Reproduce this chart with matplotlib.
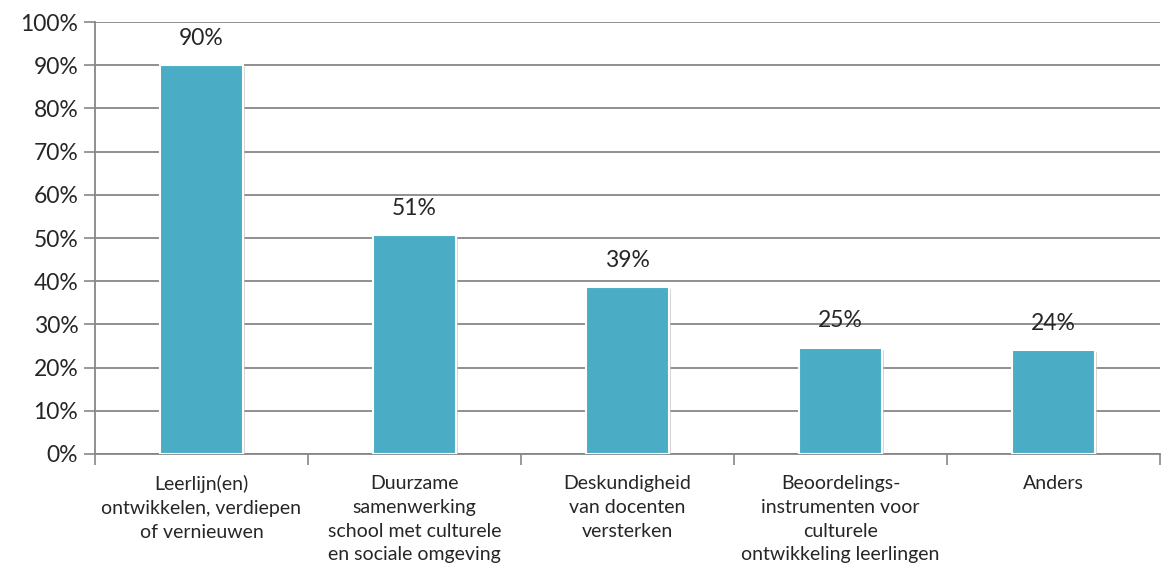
import matplotlib
matplotlib.use("Agg")
import matplotlib.pyplot as plt
import numpy as np
from matplotlib.ticker import FixedLocator, PercentFormatter
import matplotlib.patheffects as pe

categories = [
    "Leerlijn(en)\nontwikkelen, verdiepen\nof vernieuwen",
    "Duurzame\nsamenwerking\nschool met culturele\nen sociale omgeving",
    "Deskundigheid\nvan docenten\nversterken",
    "Beoordelings-\ninstrumenten voor\nculturele\nontwikkeling leerlingen",
    "Anders",
]
values = [90.0, 50.7, 38.6, 24.6, 24.0]
value_labels = ["90%", "51%", "39%", "25%", "24%"]
y_ticks = [0, 10, 20, 30, 40, 50, 60, 70, 80, 90, 100]

plt.rcParams["font.family"] = ["Lato", "DejaVu Sans"]

fig = plt.figure(figsize=(11.64, 5.72), dpi=100)
ax = fig.add_axes([0.0816, 0.2063, 0.9150, 0.7552])

grid_col = "#878787"
bar_col = "#4BACC6"
text_col = "#262626"

x = np.arange(len(categories))
ax.set_xlim(-0.5, len(categories) - 0.5)
ax.set_ylim(0, 100)

ax.yaxis.set_major_locator(FixedLocator(y_ticks))
ax.yaxis.set_major_formatter(PercentFormatter(decimals=0))
ax.grid(axis="y", color=grid_col, linewidth=1.3)
ax.set_axisbelow(True)

bars = ax.bar(x, values, width=0.39, color=bar_col, edgecolor="white",
              linewidth=1.5, zorder=3)
for b in bars:
    b.set_path_effects([pe.SimplePatchShadow(offset=(1.5, -1.5), shadow_rgbFace="#bbbbbb", alpha=0.6), pe.Normal()])

for xi, v, lab in zip(x, values, value_labels):
    ax.text(xi, v + 3.8, lab, ha="center", va="bottom", fontsize=16.5,
            color=text_col, zorder=4)

# category labels centered, ticks at boundaries
ax.set_xticks(np.arange(-0.5, len(categories) + 0.5, 1.0))
ax.set_xticklabels([])
ax.tick_params(axis="x", length=8, width=1.2, color=grid_col, direction="out")
for xi, c in zip(x, categories):
    ax.text(xi, -4.9, c, ha="center", va="top", fontsize=14, color=text_col,
            linespacing=1.48, clip_on=False)

ax.tick_params(axis="y", length=8, width=1.2, color=grid_col, labelsize=16.5,
               labelcolor=text_col, pad=4)

for s in ["top", "right"]:
    ax.spines[s].set_visible(False)
for s in ["left", "bottom"]:
    ax.spines[s].set_color(grid_col)
    ax.spines[s].set_linewidth(1.3)

fig.savefig("out.png", dpi=100)
